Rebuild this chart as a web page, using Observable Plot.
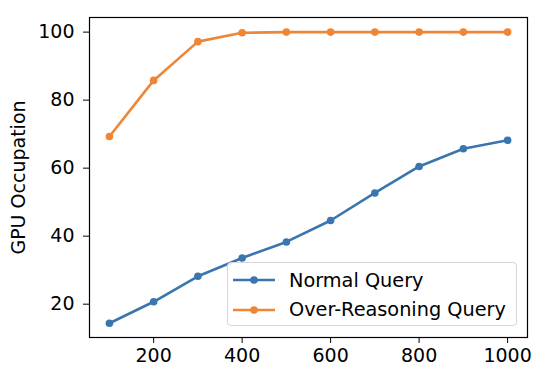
<!DOCTYPE html>
<html>
<head>
<meta charset="utf-8">
<script src="https://cdn.jsdelivr.net/npm/d3@7"></script>
<script src="https://cdn.jsdelivr.net/npm/@observablehq/plot@0.6"></script>
<style>
  html, body { margin: 0; padding: 0; background: #fff; }
  #wrap { position: relative; width: 540px; height: 372px; font-family: "DejaVu Sans", sans-serif; }
  #legend {
    position: absolute; left: 227px; top: 262px; width: 290px; height: 64px;
    border: 1px solid #d6d6d6; border-radius: 4px; background: rgba(255,255,255,0.8);
    box-sizing: border-box; font-size: 19.3px; color: #000;
  }
  .item { position: absolute; left: 5px; display: flex; align-items: center; height: 24px; }
  .item span { margin-left: 14px; white-space: nowrap; }
</style>
</head>
<body>
<div id="wrap"></div>
<script>
const xs = [100, 200, 300, 400, 500, 600, 700, 800, 900, 1000];
const normalQuery = [14.4, 20.7, 28.2, 33.6, 38.3, 44.6, 52.7, 60.5, 65.7, 68.2];
const overReasoningQuery = [69.3, 85.8, 97.2, 99.8, 100, 100, 100, 100, 100, 100];
const seriesNames = ["Normal Query", "Over-Reasoning Query"];
const seriesColors = ["#3b75af", "#ef8636"];
const xTicks = [200, 400, 600, 800, 1000];
const yTicks = [20, 40, 60, 80, 100];
const yLabel = "GPU Occupation";

const rows = [];
[normalQuery, overReasoningQuery].forEach((vals, si) => {
  vals.forEach((v, i) => rows.push({x: xs[i], y: v, s: seriesNames[si]}));
});

const color = {domain: seriesNames, range: seriesColors};

const chart = Plot.plot({
  width: 540,
  height: 372,
  marginLeft: 89,
  marginRight: 13,
  marginTop: 17,
  marginBottom: 35,
  style: {fontFamily: "DejaVu Sans, sans-serif", fontSize: "19px", color: "#000", background: "#fff"},
  x: {domain: [55, 1045]},
  y: {domain: [10.2, 104.3]},
  color,
  marks: [
    Plot.frame({stroke: "#000", strokeWidth: 1.2}),
    Plot.axisX({ticks: xTicks, tickSize: 6, tickPadding: 5, fontSize: 19, label: null, tickFormat: d => String(d)}),
    Plot.axisY({ticks: yTicks, tickSize: 6, tickPadding: 9, fontSize: 19, label: yLabel, labelAnchor: "center", labelArrow: "none", labelOffset: 78, tickFormat: d => String(d)}),
    Plot.line(rows, {x: "x", y: "y", z: "s", stroke: "s", strokeWidth: 2.6}),
    Plot.dot(rows, {x: "x", y: "y", fill: "s", r: 3.8})
  ]
});

const wrap = document.getElementById("wrap");
wrap.appendChild(chart);

const legend = document.createElement("div");
legend.id = "legend";
seriesNames.forEach((name, i) => {
  const item = document.createElement("div");
  item.className = "item";
  item.style.top = (5 + i * 29.5) + "px";
  item.innerHTML = `<svg width="42" height="12"><line x1="0" y1="6" x2="42" y2="6" stroke="${seriesColors[i]}" stroke-width="2.6"/><circle cx="21" cy="6" r="3.8" fill="${seriesColors[i]}"/></svg><span>${name}</span>`;
  legend.appendChild(item);
});
wrap.appendChild(legend);
</script>
</body>
</html>
